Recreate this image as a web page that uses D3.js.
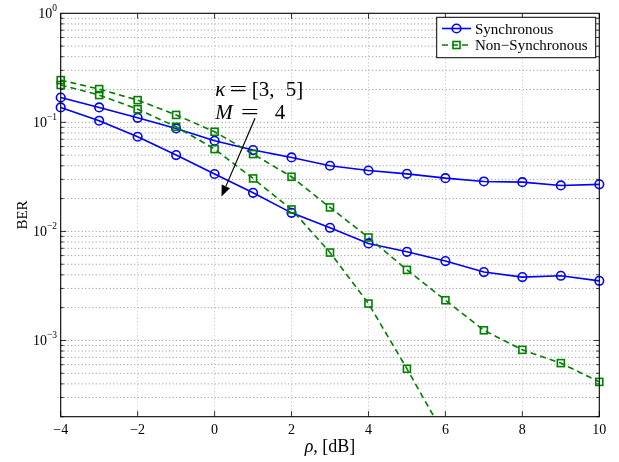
<!DOCTYPE html>
<html>
<head>
<meta charset="utf-8">
<script src="https://cdn.jsdelivr.net/npm/d3@7"></script>
<style>
  html, body { margin: 0; padding: 0; background: #fff; }
  svg { display: block; }
  text { font-family: "Liberation Serif", "DejaVu Serif", serif; fill: #000; }
</style>
</head>
<body>
<svg id="chart" width="619" height="462"></svg>
<script>
// SNR points (dB)
const rho = [-4, -3, -2, -1, 0, 1, 2, 3, 4, 5, 6, 7, 8, 9, 10];

// Synchronous receiver, two curves (error floor high / low)
const syncA = [0.169, 0.137, 0.110, 0.088, 0.0678, 0.0557, 0.0477, 0.040, 0.0362, 0.0337, 0.0308, 0.0287, 0.0283, 0.0264, 0.027];
const syncB = [0.137, 0.1035, 0.0738, 0.0501, 0.0336, 0.0226, 0.0148, 0.0108, 0.00776, 0.0065, 0.00535, 0.00424, 0.00381, 0.00392, 0.00352];

// Non-synchronous receiver, two curves
const nonSyncA = [0.244, 0.202, 0.160, 0.117, 0.082, 0.0512, 0.0317, 0.0166, 0.0088, 0.00444, 0.00234, 0.00124, 0.00082, 0.00062, 0.000417];
const nonSyncB = [0.220, 0.178, 0.132, 0.0911, 0.0569, 0.0306, 0.0159, 0.0064, 0.00218, 0.00055, 0.00013];

// Axis ticks
const xTicks = [-4, -2, 0, 2, 4, 6, 8, 10];
const yDecades = [0, -1, -2, -3];

// Annotation anchor points in data units
const arrowFrom = { x: 1.05, y: 0.109 };
const arrowTo = { x: 0.18, y: 0.0209 };
const noteAt = { x: 0.02 };

const svg = d3.select("#chart");
const L = 60.7, R = 599.3, T = 13.3, B = 416.7;

const x = d3.scaleLinear().domain([-4, 10]).range([L, R]);
const y = d3.scaleLog().domain([2e-4, 1]).range([B, T]);

const blue = "#0000ff", green = "#008000";
const sq = 7;

// clip for data lines
svg.append("defs").append("clipPath").attr("id", "plot")
  .append("rect").attr("x", L).attr("y", T).attr("width", R - L).attr("height", B - T);

// minor / major log values
const yMinor = [];
for (let e = -4; e < 0; e++) {
  for (let m = 1; m < 10; m++) {
    const v = m * Math.pow(10, e);
    if (v >= 2e-4 && v <= 1) yMinor.push(v);
  }
}

// grid
const grid = svg.append("g").attr("stroke", "#000").attr("stroke-width", 0.6)
  .attr("stroke-dasharray", "1,2.5").attr("opacity", 0.75);
grid.selectAll("line.h").data(yMinor.filter(v => v > 2.0001e-4 && v < 1)).join("line")
  .attr("x1", L).attr("x2", R).attr("y1", d => y(d)).attr("y2", d => y(d));
grid.selectAll("line.v").data(xTicks.filter(v => v > -4 && v < 10)).join("line")
  .attr("class", "v")
  .attr("y1", T).attr("y2", B).attr("x1", d => x(d)).attr("x2", d => x(d))
  .attr("opacity", 0.6);

// ticks (inside, on all four sides)
const ticks = svg.append("g").attr("stroke", "#000").attr("stroke-width", 0.8);
xTicks.forEach(v => {
  ticks.append("line").attr("x1", x(v)).attr("x2", x(v)).attr("y1", B).attr("y2", B - 5.5);
  ticks.append("line").attr("x1", x(v)).attr("x2", x(v)).attr("y1", T).attr("y2", T + 5.5);
});
yMinor.forEach(v => {
  const major = Math.abs(Math.log10(v) - Math.round(Math.log10(v))) < 1e-9;
  const len = major ? 5.5 : 3;
  ticks.append("line").attr("x1", L).attr("x2", L + len).attr("y1", y(v)).attr("y2", y(v));
  ticks.append("line").attr("x1", R).attr("x2", R - len).attr("y1", y(v)).attr("y2", y(v));
});

// tick labels
svg.append("g").selectAll("text").data(xTicks).join("text")
  .attr("x", d => x(d)).attr("y", 433.5).attr("text-anchor", "middle")
  .attr("font-size", 14)
  .text(d => d < 0 ? "\u2212" + Math.abs(d) : String(d));

const yl = svg.append("g").selectAll("text").data(yDecades).join("text")
  .attr("x", 57).attr("y", d => y(Math.pow(10, d)) + 5).attr("text-anchor", "end")
  .attr("font-size", 14);
yl.append("tspan").text("10");
yl.append("tspan").attr("font-size", 9.5).attr("dy", -7)
  .text(d => d < 0 ? "\u2212" + Math.abs(d) : String(d));

// axis labels
svg.append("text").attr("transform", `translate(27,${(T + B) / 2}) rotate(-90)`)
  .attr("text-anchor", "middle").attr("font-size", 15).text("BER");
const xl = svg.append("text").attr("x", (L + R) / 2).attr("y", 452)
  .attr("text-anchor", "middle").attr("font-size", 18);
xl.append("tspan").attr("font-style", "italic").text("\u03c1");
xl.append("tspan").text(", [dB]");

// series
const series = [
  { vals: syncA, color: blue, dash: null, marker: "circle" },
  { vals: syncB, color: blue, dash: null, marker: "circle" },
  { vals: nonSyncA, color: green, dash: "6,4", marker: "square" },
  { vals: nonSyncB, color: green, dash: "6,4", marker: "square" }
];

const line = d3.line().x(d => x(d[0])).y(d => y(d[1]));
const plot = svg.append("g").attr("clip-path", "url(#plot)");

series.forEach(s => {
  const pts = s.vals.map((v, i) => [rho[i], v]);
  plot.append("path").datum(pts).attr("d", line)
    .attr("fill", "none").attr("stroke", s.color).attr("stroke-width", 1.6)
    .attr("stroke-dasharray", s.dash);
  const vis = pts.filter(p => p[1] >= 2e-4);
  if (s.marker === "circle") {
    svg.append("g").selectAll("circle").data(vis).join("circle")
      .attr("cx", d => x(d[0])).attr("cy", d => y(d[1])).attr("r", 4.3)
      .attr("fill", "none").attr("stroke", s.color).attr("stroke-width", 1.6);
  } else {
    svg.append("g").selectAll("rect").data(vis).join("rect")
      .attr("x", d => x(d[0]) - sq / 2).attr("y", d => y(d[1]) - sq / 2)
      .attr("width", sq).attr("height", sq)
      .attr("fill", "none").attr("stroke", s.color).attr("stroke-width", 1.6);
  }
});

// axes box
svg.append("rect").attr("x", L).attr("y", T).attr("width", R - L).attr("height", B - T)
  .attr("fill", "none").attr("stroke", "#000").attr("stroke-width", 1.1);

// annotation: typeset piece by piece so the spacing reads like math mode
const nx = x(noteAt.x);
const note = svg.append("g").attr("font-size", 21);
const piece = (dx, yy, str, italic, len) => {
  const t = note.append("text").attr("x", nx + dx).attr("y", yy).text(str);
  if (italic) t.attr("font-style", "italic");
  if (len) t.attr("textLength", len).attr("lengthAdjust", "spacingAndGlyphs");
  return t;
};
piece(0, 95.5, "\u03ba", true);
piece(14, 95.5, "=", false, 18);
piece(36.5, 95.5, "[3,", false);
piece(70.5, 95.5, "5]", false);
piece(0, 118.5, "M", true);
piece(25.5, 118.5, "=", false, 18);
piece(59.5, 118.5, "4", false);

const ax1 = x(arrowFrom.x), ay1 = y(arrowFrom.y), ax2 = x(arrowTo.x), ay2 = y(arrowTo.y);
const ang = Math.atan2(ay2 - ay1, ax2 - ax1);
const hl = 11, hw = 4.5;
const bx = ax2 - hl * Math.cos(ang), by = ay2 - hl * Math.sin(ang);
svg.append("line").attr("x1", ax1).attr("y1", ay1).attr("x2", bx).attr("y2", by)
  .attr("stroke", "#000").attr("stroke-width", 1.2);
svg.append("path")
  .attr("d", `M${ax2},${ay2} L${bx + hw * Math.sin(ang)},${by - hw * Math.cos(ang)} L${bx - hw * Math.sin(ang)},${by + hw * Math.cos(ang)} Z`)
  .attr("fill", "#000");

// legend
const leg = svg.append("g");
leg.append("rect").attr("x", 436.7).attr("y", 17.3).attr("width", 159).attr("height", 40.4)
  .attr("fill", "#fff").attr("stroke", "#000").attr("stroke-width", 1);
const legItems = [
  { label: "Synchronous", color: blue, dash: null, marker: "circle", yy: 28.5 },
  { label: "Non\u2212Synchronous", color: green, dash: "6,4", marker: "square", yy: 45 }
];
legItems.forEach(it => {
  leg.append("line").attr("x1", 442).attr("x2", 471).attr("y1", it.yy).attr("y2", it.yy)
    .attr("stroke", it.color).attr("stroke-width", 1.6).attr("stroke-dasharray", it.dash);
  if (it.marker === "circle") {
    leg.append("circle").attr("cx", 456.5).attr("cy", it.yy).attr("r", 4.3)
      .attr("fill", "none").attr("stroke", it.color).attr("stroke-width", 1.6);
  } else {
    leg.append("rect").attr("x", 456.5 - sq / 2).attr("y", it.yy - sq / 2).attr("width", sq).attr("height", sq)
      .attr("fill", "none").attr("stroke", it.color).attr("stroke-width", 1.6);
  }
  leg.append("text").attr("x", 475).attr("y", it.yy + 5).attr("font-size", 15).text(it.label);
});
</script>
</body>
</html>
